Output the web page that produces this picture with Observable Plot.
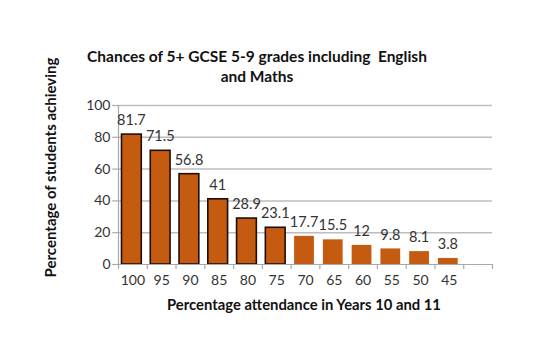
<!DOCTYPE html>
<html><head><meta charset="utf-8">
<script src="https://cdn.jsdelivr.net/npm/d3@7"></script>
<script src="https://cdn.jsdelivr.net/npm/@observablehq/plot@0.6"></script>
<style>
html,body{margin:0;padding:0;background:#fff;}
#chart svg{display:block;}
</style>
</head><body>
<div id="chart"></div>
<script>
const categories = ["100","95","90","85","80","75","70","65","60","55","50","45"];
const values = [81.7,71.5,56.8,41,28.9,23.1,17.7,15.5,12,9.8,8.1,3.8];
const outlined = [true,true,true,true,true,true,false,false,false,false,false,false];
const yTicks = [0,20,40,60,80,100];
const titleLines = ["Chances of 5+ GCSE 5-9 grades including  English","and Maths"];
const yLabel = "Percentage of students achieving";
const xLabel = "Percentage attendance in Years 10 and 11";

const nSlots = categories.length + 1;
const data = categories.map((c,i)=>({cat:c, i, v:values[i], out:outlined[i]}));
const font = "Lato, 'Open Sans', sans-serif";

const chart = Plot.plot({
  width: 557, height: 360,
  marginLeft: 118, marginRight: 65, marginTop: 105, marginBottom: 96,
  style: {fontFamily: font, background: "#fff", overflow: "visible"},
  x: {type: "linear", domain: [0, nSlots], axis: null},
  y: {domain: [0, 100], axis: null},
  marks: [
    Plot.ruleY(yTicks.filter(d=>d>0), {y: d=>d, x1: 0, x2: nSlots, stroke: "#bdbdbd", strokeWidth: 1.5}),
    Plot.rectY(data, {x1: d=>d.i, x2: d=>d.i+1, y: "v", insetLeft: 3.5, insetRight: 5.5,
      fill: "#c55a11", stroke: d=>d.out ? "#1e0f05" : "none", strokeWidth: 1.6}),
    Plot.ruleY([0], {x1: 0, x2: nSlots, stroke: "#a9a9a9", strokeWidth: 1.2}),
    Plot.ruleX([0], {y1: 0, y2: 100, stroke: "#a9a9a9", strokeWidth: 1.2}),
    Plot.ruleY(yTicks, {y: d=>d, x1: -0.2, x2: 0, stroke: "#a9a9a9", strokeWidth: 1.2}),
    Plot.text(yTicks, {y: d=>d, frameAnchor: "left", dx: -8, textAnchor: "end", text: d=>String(d),
      fontSize: 14, fill: "#333"}),
    Plot.ruleX(d3.range(nSlots+1), {x: d=>d, y1: 0, y2: -3.2, stroke: "#a9a9a9", strokeWidth: 1.2}),
    Plot.text(data, {x: d=>d.i+0.5, frameAnchor: "bottom", dy: 20, text: "cat", fontSize: 14, fill: "#333"}),
    Plot.text(data, {x: d=>d.i+0.45, y: "v", dy: -14, text: d=>String(d.v), fontSize: 14.5, fill: "#333"})
  ]
});
document.getElementById("chart").appendChild(chart);

const svg = d3.select(chart);
const tg = svg.append("g").attr("font-family", font).attr("font-weight", "bold").attr("fill", "#111");
titleLines.forEach((t, i) => {
  tg.append("text").attr("x", 257).attr("y", 62 + i*20).attr("text-anchor", "middle")
    .attr("font-size", 15.5).style("white-space", "pre").text(t);
});
tg.append("text").attr("transform", "translate(55.5,167.5) rotate(-90)").attr("text-anchor", "middle")
  .attr("font-size", 15).text(yLabel);
tg.append("text").attr("x", 304).attr("y", 310).attr("text-anchor", "middle")
  .attr("font-size", 14.8).text(xLabel);
</script>
</body></html>
